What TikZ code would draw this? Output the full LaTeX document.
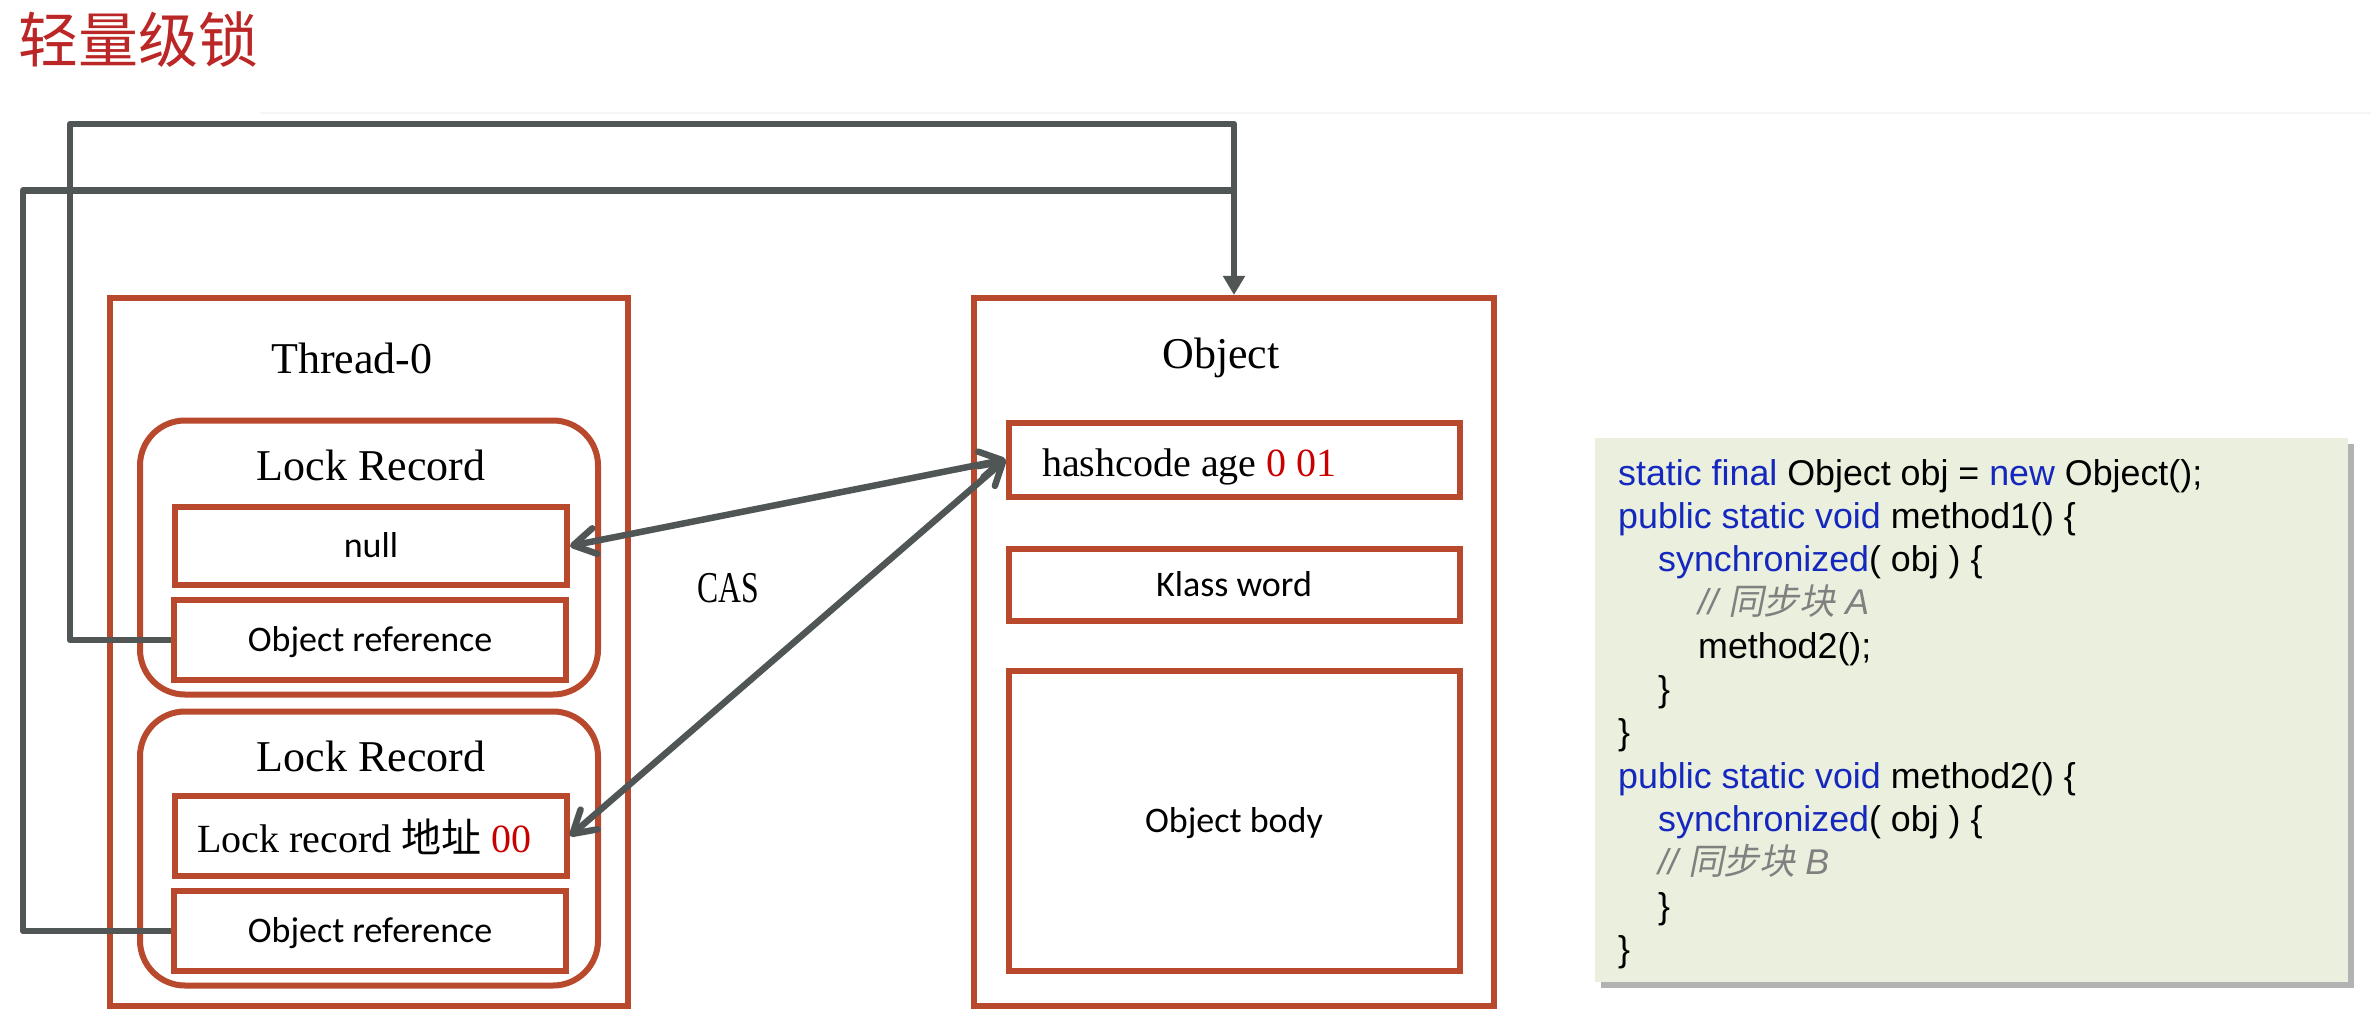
\documentclass[tikz,border=0pt]{standalone}
\usepackage{fontspec}
\setmainfont{Liberation Serif}
\newfontfamily\codefont{Liberation Sans}
\newfontfamily\boxfont{Carlito}
\newfontfamily\cjkfont{Noto Sans CJK SC}
\newfontfamily\cjkslant[FakeSlant=0.2]{Noto Sans CJK SC}
\usetikzlibrary{arrows.meta,shadows}

\definecolor{boxred}{RGB}{184,73,45}
\definecolor{wiregray}{RGB}{80,86,85}
\definecolor{titlered}{RGB}{187,38,38}
\definecolor{bitred}{RGB}{200,0,0}
\definecolor{codebg}{RGB}{235,240,222}
\definecolor{kwblue}{RGB}{20,40,190}
\definecolor{cmtgray}{RGB}{128,128,128}

\newcommand\kw[1]{\textcolor{kwblue}{#1}}
\newcommand\cmt[1]{\textcolor{cmtgray}{\itshape // {\cjkslant 同步块} #1}}
\newcommand\bits[1]{\textcolor{bitred}{#1}}

\tikzset{
  frame/.style={draw=boxred, line width=6pt, inner sep=0pt},
  slot/.style={frame, minimum width=392pt, minimum height=80pt,
    font=\boxfont\fontsize{36}{40}\selectfont, text height=23pt, text depth=0pt},
  record/.style={frame, rounded corners=45pt, minimum width=458pt, minimum height=274pt},
  caption/.style={inner sep=0pt, anchor=base, font=\fontsize{44}{50}\selectfont},
  wire/.style={draw=wiregray, line width=6.5pt, line join=round},
  cas/.style={draw=wiregray, line width=6.5pt, line cap=round,
    >={Straight Barb[length=22pt,width=26pt,round]}, <->},
  codebox/.style={fill=codebg, inner sep=0pt, minimum width=753pt, minimum height=544pt,
    drop shadow={shadow xshift=6pt, shadow yshift=-6pt, fill=black, opacity=0.3}},
  codeline/.style={inner sep=0pt, anchor=base west, font=\codefont\fontsize{35.8}{43}\selectfont},
}

\begin{document}
\begin{tikzpicture}[x=1pt,y=-1pt]
  \fill[white,use as bounding box] (0,0) rectangle (2371,1024);
  \draw[gray!8, line width=1.5pt] (260,113) -- (2371,113);
  \node[anchor=base west, inner sep=0pt, text=titlered,
        font=\cjkfont\fontsize{60}{60}\selectfont] (title) at (18,63) {轻量级锁};

  % thread stack
  \node[frame, minimum width=518pt, minimum height=708pt] (thread) at (369,652) {};
  \node[caption] (threadname) at (352,373) {Thread-0};

  \node[record] (rec1) at (369,557.5) {};
  \node[caption] (rec1name) at (371,480) {Lock Record};
  \node[slot, minimum height=78pt] (null) at (371,546) {null};
  \node[slot] (ref1) at (370,640) {Object reference};

  \node[record] (rec2) at (369,848.5) {};
  \node[caption] (rec2name) at (371,771) {Lock Record};
  \node[slot] (addr) at (371,836) {};
  \node[caption, anchor=base west, font=\fontsize{40}{44}\selectfont] (addrtext) at (197,852)
       {Lock record {\cjkfont 地址} \bits{00}};
  \node[slot] (ref2) at (370,931) {Object reference};

  % object on the heap
  \node[frame, minimum width=519.5pt, minimum height=708pt] (obj) at (1234,652) {};
  \node[caption] (objname) at (1221,368) {Object};
  \node[slot, minimum width=451pt, minimum height=74pt] (mark) at (1234,459.5) {};
  \node[caption, anchor=base west, font=\fontsize{40}{44}\selectfont] (marktext) at (1042,476)
       {hashcode age \bits{0 01}};
  \node[slot, minimum width=451pt, minimum height=72pt] (klass) at (1234,584.5) {Klass word};
  \node[slot, minimum width=451pt, minimum height=300pt] (body) at (1234,821) {Object body};

  % cas exchange
  \node[caption] (caslabel) at (728.5,602) {\scalebox{0.72}[1]{CAS}};
  \draw[cas] (null.east) -- (mark.west);
  \draw[cas] (addr.east) -- (mark.west);

  % object references
  \coordinate (merge) at (1234,190.5);
  \draw[wire] (ref2.west) -| (23,190.5) -- (merge);
  \draw[wire, -{Triangle[length=19pt,width=21pt]}] (ref1.west) -| (70,124) -| (obj.north);

  % code
  \node[codebox] (code) at (1971.5,710) {};
  \node[codeline] (c1) at (1618,485) {\kw{static final} Object obj = \kw{new} Object();};
  \node[codeline] (c2) at (1618,528.3) {\kw{public static void} method1() \{};
  \node[codeline] (c3) at (1658,571.6) {\kw{synchronized}( obj ) \{};
  \node[codeline] (c4) at (1698,614.9) {\cmt{A}};
  \node[codeline] (c5) at (1698,658.2) {method2();};
  \node[codeline] (c6) at (1658,701.5) {\}};
  \node[codeline] (c7) at (1618,744.8) {\}};
  \node[codeline] (c8) at (1618,788.1) {\kw{public static void} method2() \{};
  \node[codeline] (c9) at (1658,831.4) {\kw{synchronized}( obj ) \{};
  \node[codeline] (c10) at (1658,874.7) {\cmt{B}};
  \node[codeline] (c11) at (1658,918) {\}};
  \node[codeline] (c12) at (1618,961.3) {\}};
\end{tikzpicture}
\end{document}
